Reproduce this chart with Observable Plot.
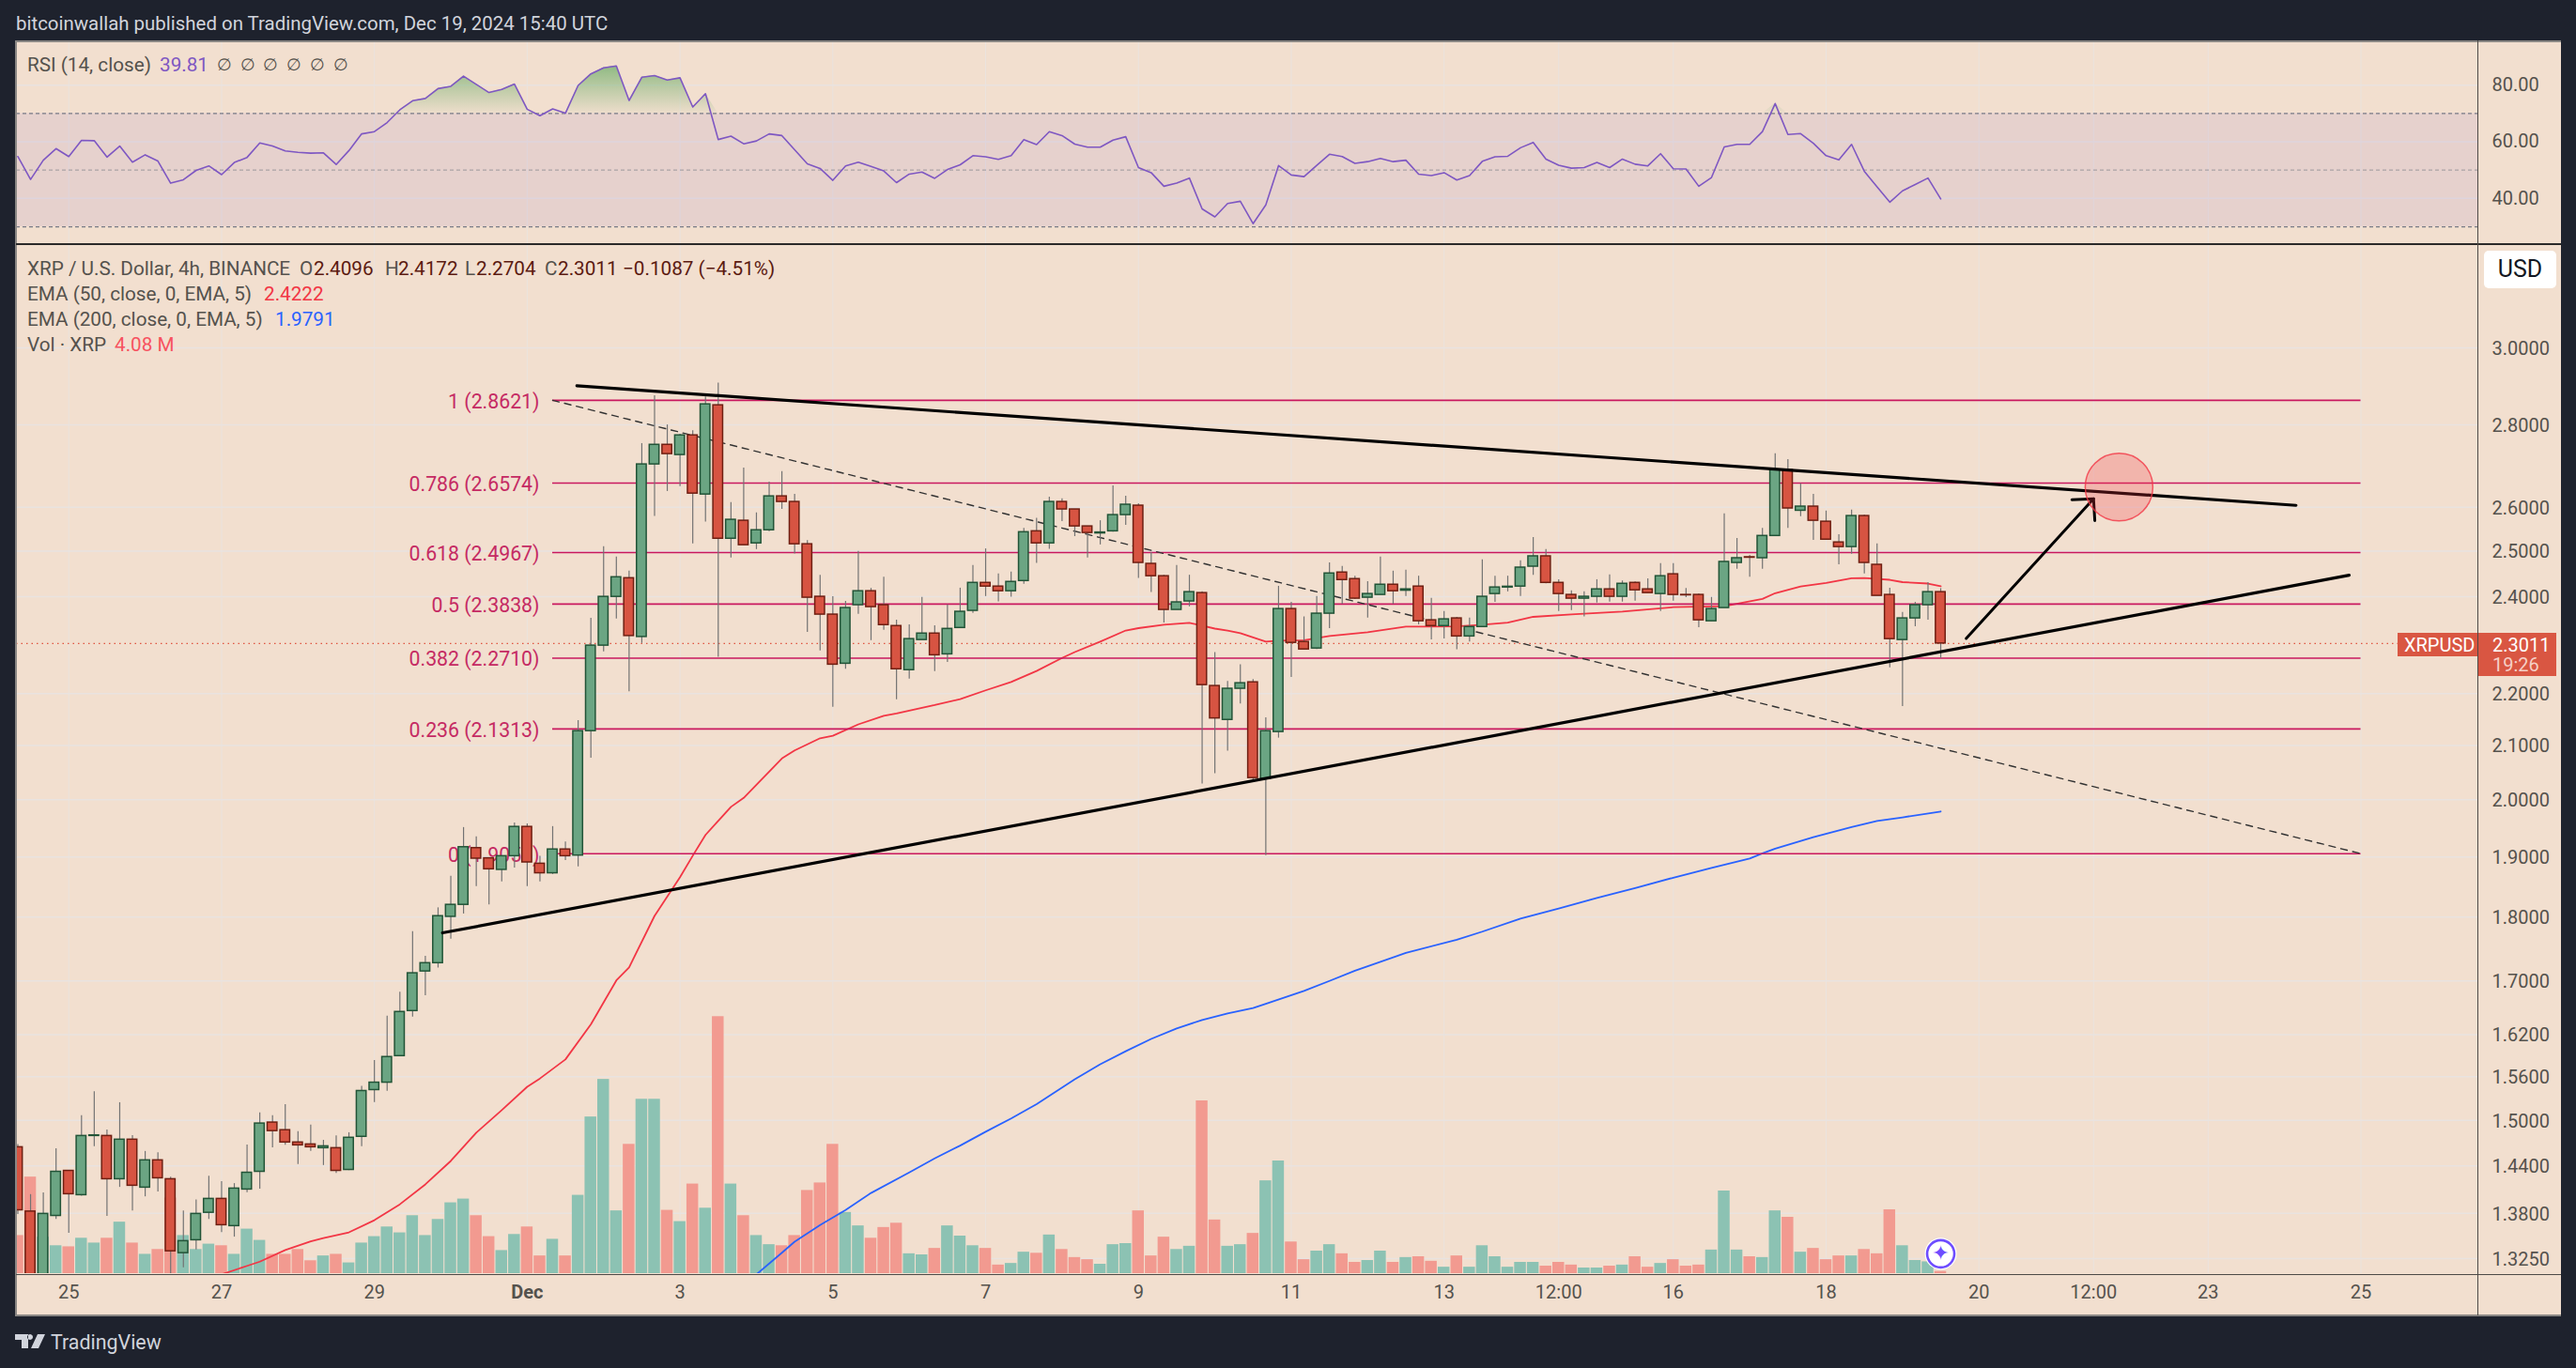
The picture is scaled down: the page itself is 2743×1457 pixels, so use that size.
<!DOCTYPE html>
<html>
<head>
<meta charset="utf-8">
<script src="https://cdn.jsdelivr.net/npm/d3@7"></script>
<script src="https://cdn.jsdelivr.net/npm/@observablehq/plot@0.6"></script>
<style>
html,body{margin:0;padding:0;background:#1e222d;overflow:hidden}
#page{position:absolute;left:0;top:0;width:2743px;height:1457px;background:#1e222d;font-family:Roboto,sans-serif}
#panel{position:absolute;left:17px;top:43px;width:2710px;height:1358px;background:#f2dfcf}
.ln{position:absolute}
.t{position:absolute;white-space:pre;transform:translateY(-50%);line-height:1;font-size:20.7px;color:#55524d}
svg.layer{position:absolute;left:17px}
</style>
</head>
<body>
<div id="page"><div id="panel"></div></div>
<script>
// 4-hour candles, Nov 24 2024 08:00 UTC onward
const opens=[1.4643,1.3822,1.30,1.3768,1.4336,1.4027,1.4792,1.4792,1.4229,1.4743,
1.4122,1.4472,1.4229,1.3316,1.3471,1.3807,1.3980,1.3643,1.4098,1.4324,
1.4971,1.4869,1.4706,1.4680,1.4631,1.4631,1.4348,1.4781,1.5414,1.5517,
1.5891,1.6547,1.7145,1.7273,1.8006,1.8201,1.9151,1.8977,1.8781,1.9013,
1.9519,1.8885,1.8724,1.9128,1.9024,2.1271,2.2967,2.3994,2.4399,2.3146,
2.7022,2.7501,2.7251,2.7735,2.6302,2.8494,2.5279,2.5690,2.5174,2.5472,
2.6258,2.6127,2.5154,2.3996,2.3615,2.2597,2.3816,2.4116,2.3816,2.3374,
2.2467,2.3083,2.3217,2.2788,2.3334,2.3695,2.4297,2.4217,2.4116,2.4338,
2.5448,2.5174,2.6127,2.5952,2.5560,2.5400,2.5448,2.5821,2.6040,2.4715,
2.4443,2.3715,2.3896,2.4076,2.2150,2.1486,2.2095,2.2223,2.0377,2.1254,
2.3734,2.3043,2.2908,2.3635,2.4524,2.4380,2.3976,2.4036,2.4257,2.4128,
2.4217,2.3495,2.3374,2.3535,2.3157,2.3354,2.4056,2.4197,2.4217,2.4653,
2.4883,2.4297,2.4036,2.3956,2.3996,2.4156,2.3996,2.4297,2.4156,2.4056,
2.4485,2.4036,2.4036,2.3475,2.3755,2.4736,2.4862,2.4841,2.5342,2.6887,
2.5922,2.6018,2.5668,2.5195,2.5091,2.5799,2.4694,2.4036,2.3083,2.3535,
2.3816,2.4096];
const highs=[1.4680,1.4034,1.4054,1.4622,1.4343,1.5063,1.5390,1.4873,1.5240,1.4797,
1.4588,1.4570,1.4256,1.3830,1.3968,1.4268,1.4197,1.4173,1.4671,1.5101,
1.5063,1.5214,1.4848,1.4937,1.4734,1.4792,1.4835,1.5465,1.5829,1.6470,
1.6830,1.7768,1.7380,1.8152,1.8672,1.9508,1.9345,1.8987,1.9013,1.9590,
1.9570,1.9013,1.9525,1.9257,2.1471,2.3536,2.5097,2.4867,2.4554,2.7531,
2.8740,2.7996,2.7763,2.7850,2.8708,2.9065,2.6112,2.6932,2.5872,2.6596,
2.6848,2.6308,2.5237,2.4464,2.3996,2.3896,2.4991,2.4177,2.4422,2.3500,
2.3398,2.3982,2.3378,2.3822,2.4182,2.4679,2.5049,2.4491,2.4533,2.5512,
2.5746,2.6242,2.6200,2.5952,2.5560,2.5690,2.6505,2.6264,2.6084,2.4966,
2.4464,2.4679,2.4464,2.4103,2.2826,2.2241,2.2578,2.2278,2.1527,2.4222,
2.3876,2.3567,2.4001,2.4736,2.4657,2.4443,2.4324,2.4867,2.4554,2.4575,
2.4443,2.3961,2.3681,2.3555,2.3541,2.4806,2.4443,2.4443,2.4784,2.5306,
2.5034,2.4366,2.4122,2.4102,2.4366,2.4470,2.4339,2.4317,2.4387,2.4721,
2.4721,2.4177,2.4056,2.3982,2.5849,2.5285,2.4904,2.5516,2.7281,2.7140,
2.6555,2.6308,2.5915,2.5369,2.5937,2.5821,2.5160,2.4182,2.3661,2.3876,
2.4303,2.4172];
const lows=[1.3785,1.29,1.295,1.3726,1.3555,1.4015,1.4650,1.3763,1.4125,1.3830,
1.4006,1.4066,1.3071,1.3142,1.3355,1.3726,1.3563,1.3509,1.4058,1.4102,
1.4634,1.4668,1.4417,1.4588,1.4405,1.4304,1.4340,1.4650,1.5241,1.5396,
1.5885,1.6456,1.6776,1.7198,1.7650,1.8052,1.8501,1.8201,1.8579,1.8813,
1.8501,1.8579,1.8704,1.8940,1.8830,2.0759,2.2837,2.3520,2.2035,2.3012,
2.5791,2.6374,2.6489,2.5160,2.5659,2.2729,2.4847,2.5133,2.5034,2.5442,
2.5954,2.4936,2.3242,2.2857,2.1731,2.2485,2.3621,2.3070,2.3287,2.1880,
2.2289,2.3083,2.2439,2.2623,2.3334,2.3641,2.4001,2.3889,2.3988,2.4269,
2.4727,2.5041,2.5670,2.5327,2.4847,2.5139,2.5427,2.5587,2.4393,2.4088,
2.3440,2.3715,2.3780,2.0286,2.0472,2.0892,2.1794,2.0343,1.9025,2.1138,
2.2321,2.2888,2.2888,2.3320,2.3836,2.3936,2.3540,2.4036,2.3836,2.4001,
2.3400,2.3087,2.3107,2.2881,2.3043,2.3354,2.3876,2.4102,2.4001,2.4464,
2.4277,2.3681,2.3701,2.3567,2.3862,2.3882,2.3882,2.3902,2.4076,2.3681,
2.3902,2.3976,2.3340,2.3475,2.3755,2.4596,2.4422,2.4596,2.5342,2.5516,
2.5784,2.5243,2.5258,2.4694,2.4930,2.4491,2.4016,2.2512,2.1744,2.3360,
2.3500,2.2704];
const closes=[1.3838,1.30,1.3793,1.4324,1.4039,1.4792,1.4800,1.4229,1.4743,1.4146,
1.4472,1.4241,1.3338,1.3460,1.3793,1.3980,1.3654,1.4110,1.4312,1.4958,
1.4857,1.4706,1.4668,1.4643,1.4655,1.4336,1.4768,1.5401,1.5517,1.5878,
1.6533,1.7117,1.7273,1.8017,1.8201,1.9167,1.8971,1.8791,1.9013,1.9519,
1.8907,1.8724,1.9128,1.9013,2.1271,2.2967,2.3994,2.4420,2.3166,2.7022,
2.7501,2.7274,2.7735,2.6324,2.8518,2.5279,2.5712,2.5133,2.5472,2.6258,
2.6127,2.5154,2.3976,2.3615,2.2578,2.3755,2.4116,2.3775,2.3394,2.2485,
2.3102,2.3217,2.2769,2.3314,2.3675,2.4297,2.4217,2.4116,2.4318,2.5427,
2.5174,2.6127,2.5952,2.5560,2.5410,2.5421,2.5821,2.6062,2.4736,2.4443,
2.3715,2.3876,2.4096,2.2168,2.1515,2.2095,2.2205,2.0394,2.1271,2.3734,
2.3024,2.2888,2.3635,2.4503,2.4359,2.3956,2.4056,2.4257,2.4116,2.4156,
2.3475,2.3374,2.3515,2.3157,2.3354,2.3996,2.4197,2.4213,2.4632,2.4883,
2.4297,2.4056,2.3956,2.3996,2.4156,2.3996,2.4277,2.4136,2.4076,2.4443,
2.4036,2.4028,2.3495,2.3734,2.4758,2.4841,2.4852,2.5342,2.6887,2.5975,
2.6018,2.5690,2.5258,2.5091,2.5799,2.4736,2.4016,2.3102,2.3535,2.3816,
2.4096,2.3011];
// volume, millions of XRP
const volumes=[71,180,68,52,50,66,57,66,96,57,36,45,141,71,45,55,52,36,83,62,
36,36,45,24,33,36,20,57,69,87,76,108,71,101,132,139,108,69,43,73,
87,33,64,33,146,292,362,117,241,325,325,118,97,167,122,479,167,108,71,54,
52,71,155,169,241,114,89,66,86,94,37,35,47,89,70,52,47,16,19,40,
38,72,45,30,26,17.5,54,56,117,33,68,45,51,322,100,51,54,75,173,210,
59,26,42,54,37,21,24.5,42,21,30,31.5,23,12,33,12,52,31.5,12,21,21,
14,21,16,10.5,10.5,14,16,31.5,12,19,26,14,16,44,154,44,31.5,30,117,105,
40,47,26,33,33,45,37,119,52,24.5,22,4.08];
// RSI (14, close)
const rsi=[54.8,46.7,53.5,57.6,54.8,60.5,60.4,54.6,58.5,52.8,55.4,53.2,45.4,46.6,49.9,51.5,48.4,52.7,54.5,59.6,
58.5,56.8,56.3,56.0,56.1,52.0,56.9,62.8,63.6,66.8,71.3,74.5,75.3,78.8,79.6,83.2,80.3,77.4,78.5,80.4,
71.5,69.2,71.6,70.1,79.9,84,86.1,86.8,74.6,82.8,83.4,81.8,82.6,72.3,77,60.8,62,59.3,60.3,62.8,
62.2,57.2,52.2,50.6,46.4,51.5,52.8,51.3,49.7,45.6,48.6,49.3,47.1,50.2,51.9,55.1,54.7,53.8,55.1,60.8,
59,63.6,62.2,59.2,58.1,58.1,60.6,61.8,50.9,49.1,44.3,45.4,47.2,36.3,33.5,38.2,39,31.1,37.7,51.6,
48.3,47.7,51.7,55.6,54.8,52.4,53,54.1,53,53.5,48.6,48.1,49.1,46.5,48.1,53.1,54.7,54.9,57.9,59.8,
53.9,51.7,50.7,50.9,52.7,50.9,53.9,52.1,51.5,55.8,50.5,50.4,44.3,47.4,58.2,59.1,59.1,63.6,73.5,62.6,
62.9,59.5,55.1,53.6,59.1,49.6,44.1,38.7,42.7,44.9,47.2,39.81];
// EMA lines: bar numbers and values
const ema50Bars=[16,18,19,21,23,24,26,28,30,32,34,36,38,40,41,43,45,47,48,50,52,53,54,56,57,60,61,63,64,66,68,69,71,72,74,76,78,80,82,83,85,87,88,90,92,93,94,95,96,97,98,99,101,103,106,109,113,115,117,119,122,126,130,134,137,138,140,142,144,145,147,148,150,151];
const ema50Values=[1.3064,1.3164,1.3214,1.3353,1.3458,1.3497,1.3566,1.3715,1.3912,1.4163,1.4464,1.4835,1.5139,1.5459,1.5575,1.5843,1.6350,1.7007,1.7207,1.8021,1.8657,1.9021,1.9379,1.9873,2.0034,2.0755,2.0906,2.1135,2.1183,2.1400,2.1565,2.1611,2.1722,2.1773,2.1890,2.2063,2.2228,2.2450,2.2713,2.2834,2.3050,2.3280,2.3330,2.3400,2.3440,2.3380,2.3320,2.3280,2.3223,2.3137,2.3050,2.3069,2.3079,2.3166,2.3242,2.3360,2.3366,2.3400,2.3445,2.3567,2.3620,2.3680,2.3772,2.3792,2.3950,2.4073,2.4217,2.4293,2.4398,2.4404,2.4364,2.4313,2.4282,2.4222];
const ema200Bars=[58,60,61,63,65,67,70,72,74,76,78,80,83,85,87,89,91,93,95,97,98,101,103,105,109,113,115,118,121,124,127,130,133,136,137,138,141,144,146,148,151];
const ema200Values=[1.3064,1.3320,1.3453,1.3655,1.3840,1.4054,1.4316,1.4497,1.4665,1.4848,1.5025,1.5220,1.5563,1.5775,1.5960,1.6138,1.6290,1.6415,1.6510,1.6592,1.6655,1.6847,1.6999,1.7157,1.7432,1.7640,1.7768,1.7977,1.8141,1.8312,1.8477,1.8649,1.8813,1.8972,1.9061,1.9143,1.9340,1.9517,1.9625,1.9687,1.9791];
// Fibonacci retracement
const fibRatios=["0","0.236","0.382","0.5","0.618","0.786","1"];
const fibPrices=[1.9056,2.1313,2.2710,2.3838,2.4967,2.6574,2.8621];
const fibBars=[42,184];
// Drawn lines: [bar, price]
const upperTrend=[[43.9,2.8996],[178.9,2.6047]];
const lowerTrend=[[33.35,1.7749],[183.07,2.4464]];
const diagonal=[[42,2.8621],[184,1.9056]];
const arrowShaft=[[153,2.3114],[163,2.6201]];
const arrowHeadA=[[161.3,2.6179],[163,2.6201],[163.1,2.5695]];
const targetCircle=[[165,2.6478]];
const badge=[[151,1.3308]];
const lastPrice=2.3011;
// Axes
const priceTicks=[3,2.8,2.6,2.5,2.4,2.2,2.1,2,1.9,1.8,1.7,1.62,1.56,1.5,1.44,1.38,1.325];
const rsiTicks=[40,60,80];
const xTickDates=["2024-11-25T00:00Z","2024-11-27T00:00Z","2024-11-29T00:00Z","2024-12-01T00:00Z","2024-12-03T00:00Z","2024-12-05T00:00Z","2024-12-07T00:00Z","2024-12-09T00:00Z","2024-12-11T00:00Z","2024-12-13T00:00Z","2024-12-14T12:00Z","2024-12-16T00:00Z","2024-12-18T00:00Z","2024-12-20T00:00Z","2024-12-21T12:00Z","2024-12-23T00:00Z","2024-12-25T00:00Z"];
const xTickLabels=["25","27","29","Dec","3","5","7","9","11","13","12:00","16","18","20","12:00","23","25"];

const C={bg:"#f2dfcf",grid:"#e9e3e0",axis:"#55524d",fib:"#c9185f",fibText:"#c52a63",up:"#6ba583",upB:"#225437",dn:"#d75442",dnB:"#6f1f12",wick:"#737373",volUp:"#8cc2b3",volDn:"#f29a90",rsi:"#7e57c2",e50:"#f23645",e200:"#2962ff"};
const FONT="Roboto, sans-serif";
const H4=4*3600e3;
const t0=Date.UTC(2024,10,24,8);
const at=i=>new Date(t0+i*H4);
const xDomain=[at(-0.11),at(193.18)];
const tickD=xTickDates.map(d=>new Date(d));
const tickFmt=d=>xTickLabels[tickD.findIndex(x=>+x===+d)];
const bars=opens.map((o,i)=>({i,t:at(i),open:o,high:highs[i],low:lows[i],close:closes[i],vol:volumes[i],rsi:rsi[i],up:closes[i]>=o}));
const pts=a=>a.map(([b,p])=>({t:at(b),p}));
const ema50=ema50Bars.map((b,k)=>({t:at(b),p:ema50Values[k]}));
const ema200=ema200Bars.map((b,k)=>({t:at(b),p:ema200Values[k]}));
const W=2710,MR=89;
const base={width:W,marginLeft:0,marginRight:MR,marginTop:0,style:{background:"transparent",fontFamily:FONT,overflow:"visible"}};
const xS={type:"utc",domain:xDomain};
const yPrice={type:"log",domain:[1.3073,3.2941]};
const PH=1141,PB=44;
function place(svg,top){svg.classList.add("layer");svg.style.position="absolute";svg.style.left="17px";svg.style.top=top+"px";document.getElementById("page").appendChild(svg);}

// RSI pane
const gradient=()=>{const d=d3.create("svg:defs");const g=d.append("linearGradient").attr("id","rsiGlow").attr("x1",0).attr("x2",0).attr("y1",0).attr("y2",1);
 g.append("stop").attr("offset","0%").attr("stop-color","#6fae6a").attr("stop-opacity",0.75);
 g.append("stop").attr("offset","100%").attr("stop-color","#6fae6a").attr("stop-opacity",0.04);return d.node();};
place(Plot.plot({...base,height:216,marginBottom:0,x:{...xS},y:{domain:[24.04,95.66]},marks:[
 gradient,
 Plot.gridX(tickD,{stroke:C.grid,strokeOpacity:.9}),
 Plot.gridY(rsiTicks,{stroke:C.grid,strokeOpacity:1,strokeWidth:1.5}),
 Plot.rect([0],{x1:xDomain[0],x2:xDomain[1],y1:30,y2:70,fill:C.rsi,fillOpacity:.1}),
 Plot.ruleY([70,30],{stroke:"#787b86",strokeWidth:1.2,strokeDasharray:"4 3"}),
 Plot.ruleY([50],{stroke:"#787b86",strokeOpacity:.55,strokeWidth:1.2,strokeDasharray:"4 3"}),
 Plot.areaY(bars,{x:"t",y1:70,y2:d=>Math.max(70,d.rsi),fill:"url(#rsiGlow)"}),
 Plot.lineY(bars,{x:"t",y:"rsi",stroke:C.rsi,strokeWidth:1.6}),
 Plot.axisY({ticks:rsiTicks,anchor:"right",label:null,tickSize:0,tickPadding:15,tickFormat:d=>d.toFixed(2),fontSize:20,fill:C.axis}),
 Plot.axisX({ticks:[],label:null,tickSize:0})
]}),43);

// Price pane, base layer: grid and axes
place(Plot.plot({...base,height:PH,marginBottom:PB,x:{...xS},y:{...yPrice},marks:[
 Plot.gridX(tickD,{stroke:C.grid,strokeOpacity:.9}),
 Plot.gridY(priceTicks,{stroke:C.grid,strokeOpacity:1,strokeWidth:1.5}),
 Plot.axisY({ticks:priceTicks,anchor:"right",label:null,tickSize:0,tickPadding:15,dy:1,tickFormat:d=>d.toFixed(4),fontSize:20,fill:C.axis}),
 Plot.axisX({ticks:tickD.filter(d=>tickFmt(d)!=="Dec"),tickFormat:tickFmt,label:null,tickSize:0,tickPadding:12,fontSize:20,fill:C.axis}),
 Plot.axisX({ticks:tickD.filter(d=>tickFmt(d)==="Dec"),tickFormat:tickFmt,label:null,tickSize:0,tickPadding:12,fontSize:20,fontWeight:"bold",fill:C.axis})
]}),259);

// Volume layer
const hwV=1.84/4, hwC=1.53/4;
place(Plot.plot({...base,height:PH,marginBottom:PB,x:{...xS,axis:null},y:{domain:[0,1919.75],axis:null},marks:[
 Plot.rect(bars,{filter:d=>d.up,x1:d=>at(d.i-hwV),x2:d=>at(d.i+hwV),y1:0,y2:"vol",fill:C.volUp,clip:true}),
 Plot.rect(bars,{filter:d=>!d.up,x1:d=>at(d.i-hwV),x2:d=>at(d.i+hwV),y1:0,y2:"vol",fill:C.volDn,clip:true})
]}),259);

// Candles, lines and drawings
const fib=fibPrices.map((p,k)=>({p,text:`${fibRatios[k]} (${p.toFixed(4)})`}));
place(Plot.plot({...base,height:PH,marginBottom:PB,x:{...xS,axis:null},y:{...yPrice,axis:null},marks:[
 Plot.line(ema200,{x:"t",y:"p",stroke:C.e200,strokeWidth:1.8,clip:true}),
 Plot.line(ema50,{x:"t",y:"p",stroke:C.e50,strokeWidth:1.8,clip:true}),
 Plot.ruleY([lastPrice],{stroke:"#e0533f",strokeWidth:1.4,strokeDasharray:"1.5 4"}),
 Plot.ruleY(fib,{y:"p",x1:at(fibBars[0]),x2:at(fibBars[1]),stroke:C.fib,strokeWidth:1.6}),
 Plot.text(fib,{y:"p",x:at(fibBars[0]),text:"text",textAnchor:"end",dx:-14,dy:1.5,fill:C.fibText,fontSize:21.3}),
 Plot.line(pts(diagonal),{x:"t",y:"p",stroke:"#333",strokeWidth:1.4,strokeDasharray:"7 6"}),
 Plot.ruleX(bars,{x:"t",y1:"low",y2:"high",stroke:C.wick,strokeWidth:1.2,clip:true}),
 Plot.rect(bars,{filter:d=>d.up,x1:d=>at(d.i-hwC),x2:d=>at(d.i+hwC),y1:"open",y2:"close",fill:C.up,stroke:C.upB,strokeWidth:1.5,clip:true}),
 Plot.rect(bars,{filter:d=>!d.up,x1:d=>at(d.i-hwC),x2:d=>at(d.i+hwC),y1:"open",y2:"close",fill:C.dn,stroke:C.dnB,strokeWidth:1.5,clip:true}),
 Plot.line(pts(upperTrend),{x:"t",y:"p",stroke:"#000",strokeWidth:3.2}),
 Plot.line(pts(lowerTrend),{x:"t",y:"p",stroke:"#000",strokeWidth:3.2}),
 Plot.line(pts(arrowShaft),{x:"t",y:"p",stroke:"#000",strokeWidth:3}),
 Plot.line(pts(arrowHeadA),{x:"t",y:"p",stroke:"#000",strokeWidth:3}),
 Plot.dot(pts(targetCircle),{x:"t",y:"p",r:36,fill:"#f23645",fillOpacity:.25,stroke:"#f23645",strokeOpacity:.8,strokeWidth:1.5}),
 Plot.dot(pts(badge),{x:"t",y:"p",r:17,fill:"#fff"}),
 Plot.dot(pts(badge),{x:"t",y:"p",r:14.5,fill:"#fff",stroke:"#6e4dff",strokeWidth:2.6}),
 Plot.text(pts(badge),{x:"t",y:"p",text:()=>"✦",fill:"#6e4dff",fontSize:22,fontFamily:"DejaVu Sans"})
]}),259);

// Frame lines
const page=document.getElementById("page");
function ln(l,t,w,h,c){const d=document.createElement("div");d.className="ln";d.style.cssText=`left:${l}px;top:${t}px;width:${w}px;height:${h}px;background:${c}`;page.appendChild(d);}
ln(16,43,2711,1.5,"#8a8784");ln(16,43,1.5,1358,"#8a8784");ln(16,1400,2711,1.5,"#8a8784");
ln(17,259,2710,1.5,"#2b2a2a");ln(17,1356.5,2710,1.5,"#4d4a47");ln(2638,43,1,1358,"#4d4a47");

// Text
function tx(s,x,y,o={}){const d=document.createElement("div");d.className="t";d.textContent=s;d.style.left=x+"px";d.style.top=y+"px";for(const k in o)d.style[k]=o[k];page.appendChild(d);return d;}
const L="#55524d",V="#5b1a11";
tx("bitcoinwallah published on TradingView.com, Dec 19, 2024 15:40 UTC",17,25,{color:"#d1d4dc",fontSize:"20.45px"});
tx("RSI (14, close)",29,69,{color:L});tx("39.81",170,69,{color:C.rsi});
for(let k=0;k<6;k++)tx("∅",231+24.7*k,69,{color:L,fontSize:"18px"});
tx("XRP / U.S. Dollar, 4h, BINANCE",29,285.5,{color:L});
tx("O",319,285.5,{color:L});tx("2.4096",334,285.5,{color:V});
tx("H",410,285.5,{color:L});tx("2.4172",424,285.5,{color:V});
tx("L",495,285.5,{color:L});tx("2.2704",507,285.5,{color:V});
tx("C",580,285.5,{color:L});tx("2.3011",594,285.5,{color:V});
tx("−0.1087 (−4.51%)",663,285.5,{color:V});
tx("EMA (50, close, 0, EMA, 5)",29,312.5,{color:L});tx("2.4222",281,312.5,{color:C.e50});
tx("EMA (200, close, 0, EMA, 5)",29,339.5,{color:L});tx("1.9791",293,339.5,{color:C.e200});
tx("Vol · XRP",29,366.5,{color:L});tx("4.08 M",122,366.5,{color:"#f7525f"});

// USD button
const usd=document.createElement("div");usd.textContent="USD";usd.style.cssText="position:absolute;left:2645px;top:267px;width:77px;height:40px;background:#fff;border-radius:5px;color:#131722;font-size:25px;text-align:center;line-height:40px";page.appendChild(usd);
// Last price tag
ln(2553,674,85,25,"#d95642");ln(2639,674,83,46,"#d95642");
tx("XRPUSD",2560,687,{color:"#fff",fontSize:"20px"});
tx("2.3011",2654,687,{color:"#fff",fontSize:"20px"});
tx("19:26",2654,708,{color:"#f5cfc6",fontSize:"20px"});
// Footer
const logo=document.createElementNS("http://www.w3.org/2000/svg","svg");logo.setAttribute("width",32);logo.setAttribute("height",16);logo.style.cssText="position:absolute;left:16px;top:1421px";
logo.innerHTML='<path d="M0 0H14V15H7V6H0Z M16 0 a3 3 0 1 0 .01 0Z M24 0H32L25 15H17Z" fill="#d1d4dc"/>';page.appendChild(logo);
tx("TradingView",54,1430,{color:"#d1d4dc",fontSize:"21.4px",fontWeight:"400"});
</script>
</body>
</html>
